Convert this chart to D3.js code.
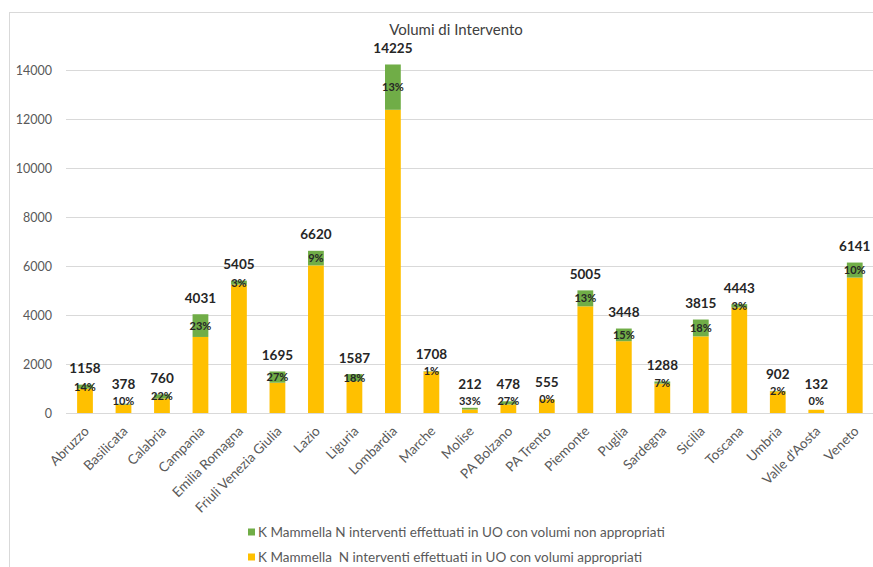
<!DOCTYPE html>
<html>
<head>
<meta charset="utf-8">
<script src="https://cdn.jsdelivr.net/npm/d3@7"></script>
<style>
  html, body { margin: 0; padding: 0; background: #fff; }
  svg { display: block; }
  text { font-family: Lato, "Liberation Sans", sans-serif; }
</style>
</head>
<body>
<svg id="chart" width="873" height="567"></svg>
<script>
const categories = ["Abruzzo","Basilicata","Calabria","Campania","Emilia Romagna","Friuli Venezia Giulia","Lazio","Liguria","Lombardia","Marche","Molise","PA Bolzano","PA Trento","Piemonte","Puglia","Sardegna","Sicilia","Toscana","Umbria","Valle d'Aosta","Veneto"];
// K Mammella N interventi effettuati in UO con volumi appropriati (yellow)
const appropriati = [996, 340, 593, 3104, 5243, 1237, 6024, 1301, 12376, 1691, 142, 349, 555, 4354, 2931, 1198, 3128, 4310, 884, 132, 5527];
// K Mammella N interventi effettuati in UO con volumi non appropriati (green)
const nonAppropriati = [162, 38, 167, 927, 162, 458, 596, 286, 1849, 17, 70, 129, 0, 651, 517, 90, 687, 133, 18, 0, 614];
const totalLabels = ["1158","378","760","4031","5405","1695","6620","1587","14225","1708","212","478","555","5005","3448","1288","3815","4443","902","132","6141"];
const pctLabels = ["14%","10%","22%","23%","3%","27%","9%","18%","13%","1%","33%","27%","0%","13%","15%","7%","18%","3%","2%","0%","10%"];
const yTicks = [0, 2000, 4000, 6000, 8000, 10000, 12000, 14000];
const seriesNames = ["K Mammella N interventi effettuati in UO con volumi non appropriati", "K Mammella  N interventi effettuati in UO con volumi appropriati"];
const colors = { non: "#70AD47", app: "#FFC000" };

const svg = d3.select("#chart");

// chart border
svg.append("rect").attr("x", 9.5).attr("y", 12.5).attr("width", 900).attr("height", 600)
  .attr("fill", "none").attr("stroke", "#D9D9D9").attr("stroke-width", 1);

const x = d3.scaleBand().domain(categories).range([65.75, 874]).paddingInner(0.59).paddingOuter(0.295);
const y = d3.scaleLinear().domain([0, 14000]).range([413, 70]);

// title
svg.append("text").attr("x", 456).attr("y", 35).attr("text-anchor", "middle")
  .attr("font-size", 15).attr("fill", "#404040").text("Volumi di Intervento");

// gridlines
const grid = svg.append("g");
grid.selectAll("line").data(yTicks).join("line")
  .attr("x1", 66).attr("x2", 874)
  .attr("y1", d => Math.round(y(d)) + 0.5).attr("y2", d => Math.round(y(d)) + 0.5)
  .attr("stroke", "#D9D9D9").attr("stroke-width", 1);

// y axis labels
const yAxis = d3.axisLeft(y).tickValues(yTicks).tickSize(0).tickPadding(0).tickFormat(d3.format("d"));
const yg = svg.append("g").attr("transform", "translate(52,0)").call(yAxis);
yg.select(".domain").remove();
yg.selectAll("text").attr("font-size", 12.5).attr("fill", "#595959").attr("font-family", "Lato, sans-serif");

// stacked data
const rows = categories.map((c, i) => ({ cat: c, app: appropriati[i], non: nonAppropriati[i] }));
const stack = d3.stack().keys(["app", "non"]);
const stacked = stack(rows);

const barsG = svg.append("g");
stacked.forEach(layer => {
  barsG.append("g").attr("fill", colors[layer.key])
    .selectAll("rect").data(layer).join("rect")
    .attr("x", d => x(d.data.cat))
    .attr("width", x.bandwidth())
    .attr("y", d => y(d[1]))
    .attr("height", d => Math.max(0, y(d[0]) - y(d[1])));
});

// percentage label centres (centred on green segment, kept above the baseline)
const pctCenter = d => Math.min(y(d.app + d.non / 2), 401);

// total labels
svg.append("g").selectAll("text").data(rows).join("text")
  .attr("x", d => x(d.cat) + x.bandwidth() / 2)
  .attr("y", d => Math.min(y(d.app + d.non) - 16, pctCenter(d) - 17) + 4.5)
  .attr("text-anchor", "middle")
  .attr("font-size", 13.5).attr("font-weight", "bold").attr("fill", "#262626")
  .text((d, i) => totalLabels[i]);

// percentage labels
svg.append("g").selectAll("text").data(rows).join("text")
  .attr("x", d => x(d.cat) + x.bandwidth() / 2)
  .attr("y", d => pctCenter(d) + 4)
  .attr("text-anchor", "middle")
  .attr("font-size", 11).attr("font-weight", "bold").attr("fill", "#262626")
  .text((d, i) => pctLabels[i]);

// x axis labels
const xAxis = d3.axisBottom(x).tickSize(0).tickPadding(0);
const xg = svg.append("g").attr("transform", "translate(0,413)").call(xAxis);
xg.select(".domain").remove();
xg.selectAll("text")
  .attr("font-size", 13.5).attr("fill", "#595959").attr("font-family", "Lato, sans-serif")
  .attr("text-anchor", "end")
  .attr("dy", null).attr("y", 0)
  .attr("transform", "translate(5,19) rotate(-45)");

// legend
const legend = svg.append("g");
const legendItems = [
  { name: seriesNames[0], color: colors.non, yy: 532 },
  { name: seriesNames[1], color: colors.app, yy: 557 }
];
legendItems.forEach(it => {
  legend.append("rect").attr("x", 248).attr("y", it.yy - 3.5).attr("width", 7).attr("height", 7).attr("fill", it.color);
  legend.append("text").attr("x", 258).attr("y", it.yy + 4.5)
    .attr("font-size", 13.5).attr("fill", "#595959").style("white-space", "pre")
    .text(it.name);
});
</script>
</body>
</html>
